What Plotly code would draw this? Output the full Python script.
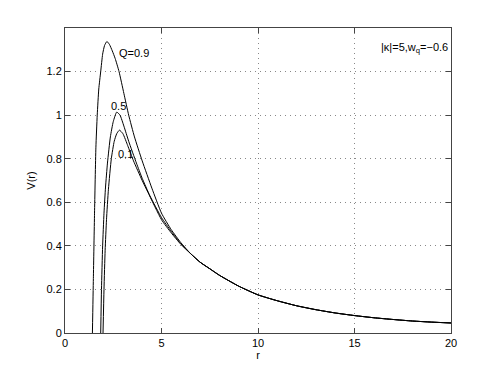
import plotly.graph_objects as go

# common tail, all three curves merge here
r_tail = [6.5, 7, 7.5, 8, 9, 10, 11, 12, 13, 14, 15, 16, 17, 18, 19, 20]
v_tail = [0.365, 0.325, 0.295, 0.265, 0.215, 0.175, 0.148, 0.125,
          0.107, 0.092, 0.08, 0.07, 0.062, 0.055, 0.05, 0.046]

# Q = 0.9
r_q09 = [1.42, 1.47, 1.53, 1.6, 1.67, 1.75, 1.85, 1.95, 2.05, 2.17, 2.3, 2.45,
         2.6, 2.8, 3.05, 3.3, 3.6, 4.0, 4.5, 5.0, 5.5, 6.0]
v_q09 = [0, 0.25, 0.55, 0.85, 1.0, 1.12, 1.2, 1.28, 1.32, 1.338, 1.325, 1.295,
         1.26, 1.2, 1.1, 1.0, 0.9, 0.79, 0.665, 0.55, 0.475, 0.415]

# Q = 0.5
r_q05 = [1.85, 1.89, 1.95, 2.02, 2.1, 2.2, 2.35, 2.5, 2.68, 2.85, 3.05, 3.3,
         3.7, 4.0, 4.4, 5.0, 5.5, 6.0]
v_q05 = [0, 0.2, 0.4, 0.55, 0.67, 0.78, 0.9, 0.97, 1.014, 1.0, 0.95, 0.88,
         0.78, 0.71, 0.63, 0.53, 0.467, 0.41]

# Q = 0.1
r_q01 = [1.97, 2.02, 2.08, 2.15, 2.25, 2.4, 2.55, 2.68, 2.82, 3.0, 3.25, 3.55,
         4.0, 4.3, 5.0, 5.5, 6.0]
v_q01 = [0, 0.2, 0.38, 0.52, 0.66, 0.8, 0.88, 0.915, 0.931, 0.915, 0.86, 0.79,
         0.7, 0.645, 0.52, 0.46, 0.407]

labels = [("Q=0.9", 2.68, 1.285), ("0.5", 2.29, 1.04), ("0.1", 2.62, 0.82)]

fig = go.Figure()
for rr, vv in [(r_q09, v_q09), (r_q05, v_q05), (r_q01, v_q01)]:
    fig.add_trace(go.Scatter(x=rr + r_tail, y=vv + v_tail, mode="lines",
                             line=dict(color="black", width=1, shape="spline", smoothing=0.5),
                             showlegend=False, hoverinfo="skip"))

for txt, x, y in labels:
    fig.add_annotation(x=x, y=y, text=txt, showarrow=False, xanchor="left",
                       yanchor="middle", font=dict(size=11, color="black"))

fig.add_annotation(x=19.95, y=1.31, text="|κ|=5,w<sub>q</sub>=−0.6", showarrow=False,
                   xanchor="right", yanchor="middle", font=dict(size=11, color="black"))

axis_style = dict(showline=True, linecolor="#444", linewidth=1, mirror="allticks",
                  ticks="inside", ticklen=5, tickcolor="#444", automargin=False,
                  showgrid=True, gridcolor="#888", griddash="1px,4px", gridwidth=1,
                  zeroline=False, tickfont=dict(size=11, color="black"))

fig.update_xaxes(range=[0, 20], tickvals=[0, 5, 10, 15, 20],
                 title=dict(text="r", font=dict(size=11, color="black"), standoff=2),
                 **axis_style)
fig.update_yaxes(range=[0, 1.4], tickvals=[0, 0.2, 0.4, 0.6, 0.8, 1, 1.2],
                 title=dict(text="V(r)", font=dict(size=11, color="black"), standoff=8),
                 **axis_style)

# page body adds ~8px offset, so margins are shifted to keep the plot box in place
fig.update_layout(width=498, height=375, paper_bgcolor="white", plot_bgcolor="white",
                  font=dict(family="Liberation Sans, Arial, sans-serif"),
                  margin=dict(l=57, r=55, t=20, b=50))

fig.write_html("out.html")
